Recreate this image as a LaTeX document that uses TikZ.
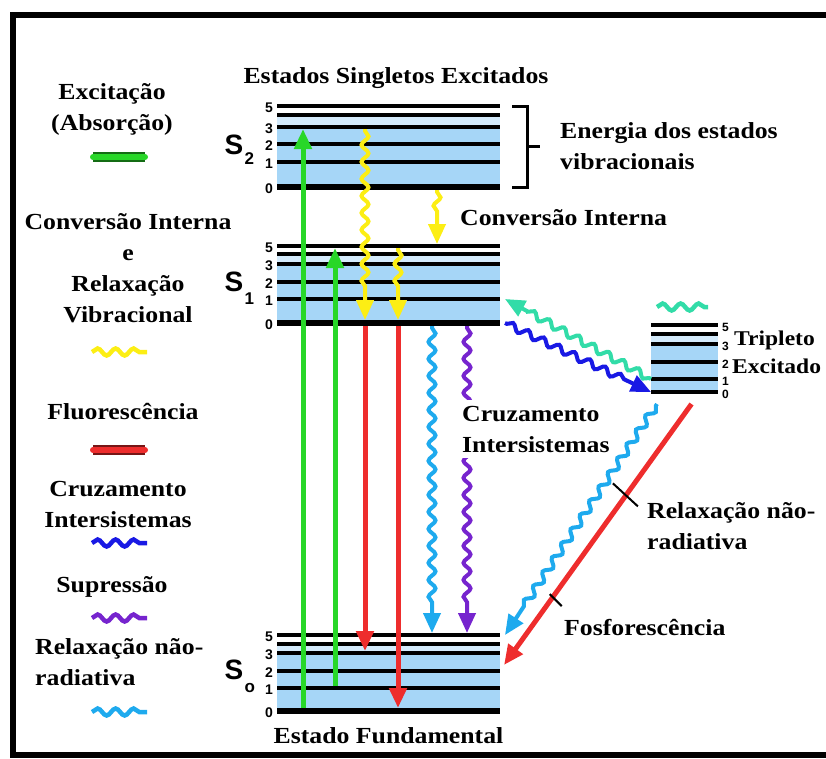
\documentclass[tikz,border=0pt]{standalone}
\usepackage{fontspec}
\setmainfont{Liberation Serif}[FakeStretch=1.12]
\setsansfont{Liberation Sans}
\usetikzlibrary{arrows.meta,calc,positioning,decorations.pathmorphing,backgrounds}

\definecolor{levelblue}{RGB}{166,214,247}
\definecolor{paleblue}{RGB}{212,235,252}
\definecolor{absgreen}{RGB}{40,215,40}
\definecolor{flured}{RGB}{238,45,45}
\definecolor{icyellow}{RGB}{252,238,20}
\definecolor{nrblue}{RGB}{30,170,238}
\definecolor{iscblue}{RGB}{25,25,228}
\definecolor{quenchpurple}{RGB}{118,36,206}
\definecolor{tealgreen}{RGB}{50,220,168}

\begin{document}
\begin{tikzpicture}[
    x=1pt, y=-1pt,
    >={Triangle[width=17pt,length=20pt]},
    lbl/.style={font=\fontsize{23}{31}\selectfont\bfseries, inner sep=0},
    statelbl/.style={font=\fontsize{28}{28}\selectfont\sffamily\bfseries, inner sep=0},
    sublbl/.style={font=\fontsize{17}{17}\selectfont\sffamily\bfseries, inner sep=0},
    lvlnum/.style={font=\fontsize{14}{14}\selectfont\sffamily\bfseries, inner sep=0},
    levelline/.style={fill=black, minimum width=#1, minimum height=4pt, inner sep=0, outer sep=0},
    levelline/.default=223pt,
    levelzero/.style={levelline=#1, minimum height=6pt},
    levelzero/.default=223pt,
    radarrow/.style={->, line width=5pt, draw=#1},
    wavearrow/.style={->, line width=4pt, draw=#1, decorate,
        decoration={snake, segment length=17pt, amplitude=3.5pt, pre length=2pt, post length=26pt}},
    legwave/.style={line width=4.5pt, draw=#1, decorate,
        decoration={snake, segment length=18pt, amplitude=3.5pt}},
    legbar/.style={line width=6pt, line cap=round, draw=#1,
        preaction={draw=#1!50!black, line width=9.5pt}},
    tickmark/.style={line width=2pt},
    outerframe/.style={line width=6pt}
]
\useasboundingbox (0,0) rectangle (826,758);
\draw[outerframe] (826,14.5) -- (13,14.5) -- (13,754.5) -- (826,754.5);

% singlet and triplet levels
\foreach \n/\y in {5/106,4/115,3/127,2/144,1/162}
    \node[levelline] (S2-\n) at (388.5,\y) {};
\node[levelzero] (S2-0) at (388.5,187) {};
\foreach \n/\y in {5/246,4/254,3/264,2/282,1/299}
    \node[levelline] (S1-\n) at (388.5,\y) {};
\node[levelzero] (S1-0) at (388.5,323) {};
\foreach \n/\y in {5/635,4/644,3/653,2/671,1/688}
    \node[levelline] (S0-\n) at (388.5,\y) {};
\node[levelzero] (S0-0) at (388.5,711) {};
\foreach \n/\y in {5/325,4/334,3/344,2/362,1/379,0/392}
    \node[levelline=67pt] (T-\n) at (684.5,\y) {};

\begin{scope}[on background layer]
  \foreach \s in {S2,S1,S0,T} {
    \fill[paleblue] (\s-4.west) rectangle (\s-3.east);
    \fill[levelblue] (\s-3.west) rectangle (\s-0.east);
  }
\end{scope}

\foreach \s in {S2,S1,S0}
  \foreach \n in {5,3,2,1,0}
    \node[lvlnum, anchor=east] at ([xshift=-4pt, yshift=-2pt]\s-\n.west) {\n};
\foreach \n in {5,3,2,1,0}
  \node[lvlnum, anchor=west, font=\fontsize{12}{12}\selectfont\sffamily\bfseries]
      at ([xshift=4pt, yshift=-2pt]T-\n.east) {\n};

\node[statelbl] (S2lbl) at (234,145) {S};
\node[sublbl, anchor=west] at ([xshift=1pt, yshift=-3pt]S2lbl.south east) {2};
\node[statelbl] (S1lbl) at (234,282) {S};
\node[sublbl, anchor=west] at ([xshift=1pt, yshift=-7pt]S1lbl.south east) {1};
\node[statelbl] (S0lbl) at (234,670) {S};
\node[sublbl, anchor=west] at ([xshift=1pt, yshift=-8pt]S0lbl.south east) {o};

\draw[line width=3pt] ([xshift=12pt]S2-5.east) -| ([xshift=27pt]S2-0.east) -- ([xshift=12pt]S2-0.east);
\draw[line width=3pt] ([xshift=27pt]$(S2-5.east)!0.5!(S2-0.east)$) -- ++(13,0);

% columns of the transitions
\coordinate (cA) at (303,0);
\coordinate (cB) at (335,0);
\coordinate (cC) at (365,0);
\coordinate (cD) at (398,0);
\coordinate (cE) at (437,0);
\coordinate (cF) at (432,0);
\coordinate (cG) at (467,0);

\draw[radarrow=absgreen] (cA |- S0-0.north) -- (cA |- S2-3.south);
\draw[radarrow=absgreen] (cB |- S0-1.north) -- (cB |- S1-5.south);
\draw[wavearrow=icyellow] (cC |- S2-3.south) -- (cC |- S1-0.north);
\draw[wavearrow=icyellow] (cD |- S1-5.south) -- (cD |- S1-0.north);
\draw[wavearrow=icyellow] (cE |- S2-0.south) -- (cE |- S1-5.north);
\draw[radarrow=flured] (cC |- S1-0.south) -- (cC |- S0-3.north);
\draw[radarrow=flured] (cD |- S1-0.south) -- (cD |- S0-0.north);
\draw[wavearrow=nrblue] (cF |- S1-0.south) -- (cF |- S0-5.north);
\draw[wavearrow=quenchpurple] (cG |- S1-0.south) -- (cG |- S0-5.north);

\draw[wavearrow=tealgreen] (T-1.west) -- ([xshift=5pt]S1-1.east);
\draw[wavearrow=iscblue] ([xshift=5pt]S1-0.east) -- (T-0.west);
\draw[wavearrow=nrblue] ([shift={(6,12)}]T-0.west) -- ([xshift=5pt]S0-5.east);
\draw[radarrow=flured] ([shift={(7,10)}]T-0.south) -- ([shift={(4,-6)}]S0-2.east)
    coordinate[pos=0.35] (tk1) coordinate[pos=0.74] (tk2);
\draw[tickmark] ([shift={(-13,-12)}]tk1) -- ([shift={(12,11)}]tk1);
\draw[tickmark] ([shift={(-3,-3)}]tk2) -- ([shift={(9,9)}]tk2);
\draw[legwave=tealgreen] (657,307) -- (708,307);

% labels
\node[lbl] (title) at (396,78) {Estados Singletos Excitados};
\node[lbl, below=13pt of S0-0] (ground) {Estado Fundamental};
\node[lbl, align=left, anchor=west] (enlbl) at (560,146) {Energia dos estados\\vibracionais};
\node[lbl, anchor=west] (iclbl) at (460,218) {Conversão Interna};
\node[lbl, align=left, anchor=west, fill=white, inner xsep=2pt, inner ysep=6pt] (isclbl) at (460,429) {Cruzamento\\Intersistemas};
\node[lbl, align=left, anchor=west] (nrlbl) at (647,526) {Relaxação não-\\radiativa};
\node[lbl, anchor=west] (phlbl) at (564,627) {Fosforescência};
\node[lbl, anchor=west, font=\fontsize{21}{21}\selectfont\bfseries] (trlbl) at (734,340) {Tripleto};
\node[lbl, anchor=west, font=\fontsize{21}{21}\selectfont\bfseries] (exlbl) at (732,366) {Excitado};

% legend
\node[lbl, align=center] (lgabs) at (112,109) {Excitação\\(Absorção)};
\draw[legbar=absgreen] (93,157) -- (145,157);
\node[lbl, align=center] (lgic) at (128,268) {Conversão Interna\\e\\Relaxação\\Vibracional};
\draw[legwave=icyellow] (92,352) -- (147,352);
\node[lbl] (lgfl) at (123,412) {Fluorescência};
\draw[legbar=flured] (93,450) -- (145,450);
\node[lbl, align=center] (lgisc) at (118,504) {Cruzamento\\Intersistemas};
\draw[legwave=iscblue] (92,543) -- (147,543);
\node[lbl] (lgsup) at (112,587) {Supressão};
\draw[legwave=quenchpurple] (92,618) -- (147,618);
\node[lbl, align=left, anchor=west] (lgnr) at (35,662) {Relaxação não-\\radiativa};
\draw[legwave=nrblue] (92,712) -- (147,712);

\end{tikzpicture}
\end{document}
